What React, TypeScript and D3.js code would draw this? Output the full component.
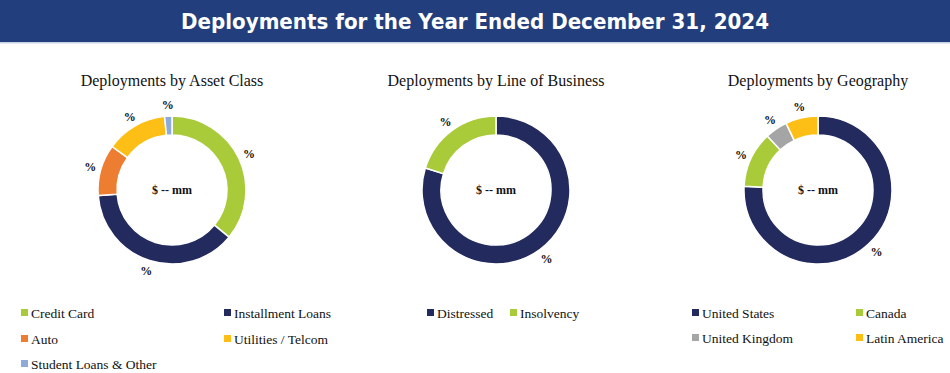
import React from "react";
import * as d3 from "d3";

const TITLE = "Deployments for the Year Ended December 31, 2024";

const assetCategories = ["Credit Card", "Installment Loans", "Auto", "Utilities / Telcom", "Student Loans & Other"];
const assetValues = [36.0, 37.8, 11.2, 13.4, 1.6];
const assetColors = ["#a9cb3a", "#222a5e", "#ed7d31", "#fdbf16", "#8eaadb"];

const lobCategories = ["Distressed", "Insolvency"];
const lobValues = [79.8, 20.2];
const lobColors = ["#222a5e", "#a9cb3a"];

const geoCategories = ["United States", "Canada", "United Kingdom", "Latin America"];
const geoValues = [75.8, 12.2, 4.9, 7.1];
const geoColors = ["#222a5e", "#a9cb3a", "#a5a5a5", "#fdbf16"];

const W = 950;
const H = 373;
const OUTER = 74;
const INNER = 55;
const LABEL_R = 85;

type DonutProps = {
  cx: number;
  title: string;
  categories: string[];
  values: number[];
  colors: string[];
  legendCols: number[];
  legendRows: number[];
  legendInline?: boolean;
};

function Donut({ cx, title, categories, values, colors, legendCols, legendRows, legendInline }: DonutProps) {
  const cy = 190;
  const data = categories.map((c, i) => ({ name: c, value: values[i], color: colors[i] }));
  const pie = d3.pie<any>().sort(null).value((d: any) => d.value);
  const arcs = pie(data);
  const arc = d3.arc<any>().innerRadius(INNER).outerRadius(OUTER);
  const labelArc = d3.arc<any>().innerRadius(LABEL_R).outerRadius(LABEL_R);

  const legendItems = data.map((d, i) =>
    legendInline
      ? { x: legendCols[i], y: legendRows[0], name: d.name, color: d.color }
      : {
          x: legendCols[i % legendCols.length],
          y: legendRows[Math.floor(i / legendCols.length)],
          name: d.name,
          color: d.color,
        }
  );

  return (
    <g>
      <text x={cx} y={86} textAnchor="middle" fontFamily="'Liberation Serif', 'Times New Roman', serif" fontSize={16} fill="#111">
        {title}
      </text>
      <g transform={`translate(${cx},${cy})`}>
        {arcs.map((a, i) => (
          <path key={i} d={arc(a) as string} fill={a.data.color} stroke="#fff" strokeWidth={1.5} />
        ))}
        {arcs.map((a, i) => {
          const [lx, ly] = labelArc.centroid(a);
          return (
            <text key={"l" + i} x={lx} y={ly} dy="0.35em" textAnchor="middle" fontFamily="'Liberation Serif', serif" fontWeight="bold" fontSize={12} fill="#111">
              %
            </text>
          );
        })}
        <text x={0} y={0} dy="0.35em" textAnchor="middle" fontFamily="'Liberation Serif', serif" fontWeight="bold" fontSize={12} fill="#111">
          $ -- mm
        </text>
      </g>
      {legendItems.map((it, i) => (
        <g key={"lg" + i}>
          <rect x={it.x} y={it.y - 4} width={7} height={7} fill={it.color} />
          <text x={it.x + 10} y={it.y} dy="0.35em" fontFamily="'Liberation Serif', serif" fontSize={13.5} fill="#111">
            {it.name}
          </text>
        </g>
      ))}
    </g>
  );
}

export default function App() {
  return (
    <div style={{ position: "absolute", left: 0, top: 0 }}>
      <svg width={W} height={H} style={{ display: "block", background: "#fff" }}>
        <rect x={0} y={0} width={W} height={42} fill="#233e7c" />
        <rect x={0} y={42} width={W} height={1.5} fill="#c9d3e6" />
        <text
          x={W / 2}
          y={29}
          textAnchor="middle"
          fontFamily="'DejaVu Sans', Verdana, sans-serif"
          fontWeight="bold"
          fontSize={22}
          fill="#fff"
          textLength={588}
          lengthAdjust="spacingAndGlyphs"
        >
          {TITLE}
        </text>
        <Donut
          cx={172}
          title="Deployments by Asset Class"
          categories={assetCategories}
          values={assetValues}
          colors={assetColors}
          legendCols={[21, 224]}
          legendRows={[313, 339, 364]}
        />
        <Donut
          cx={496}
          title="Deployments by Line of Business"
          categories={lobCategories}
          values={lobValues}
          colors={lobColors}
          legendCols={[427, 510]}
          legendRows={[313]}
          legendInline
        />
        <Donut
          cx={818}
          title="Deployments by Geography"
          categories={geoCategories}
          values={geoValues}
          colors={geoColors}
          legendCols={[692, 856]}
          legendRows={[313, 338]}
        />
      </svg>
    </div>
  );
}
